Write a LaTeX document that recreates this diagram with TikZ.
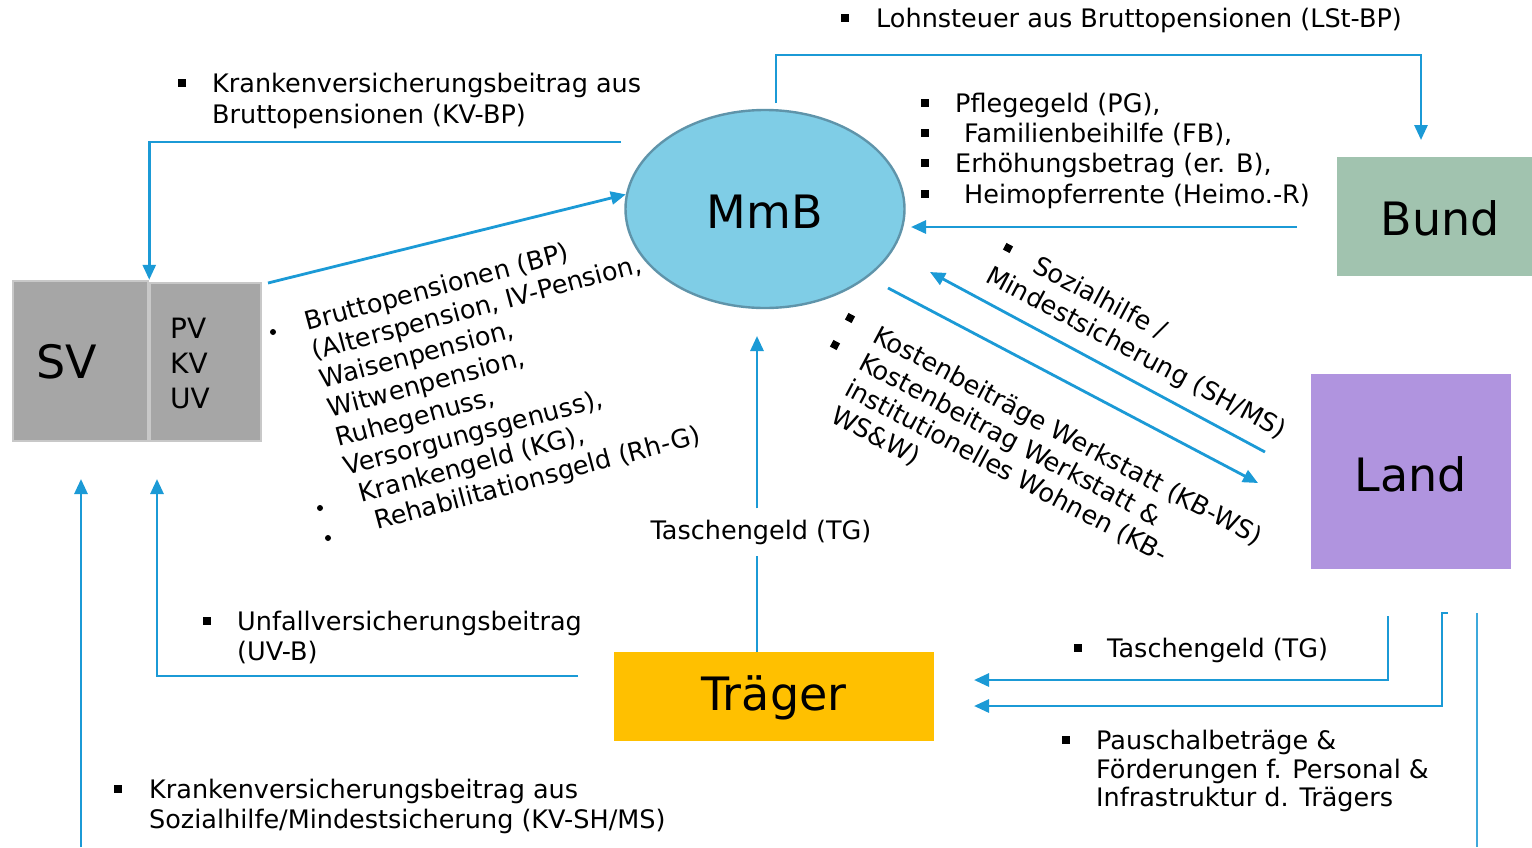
\documentclass[tikz,border=0pt]{standalone}
\usepackage{fontspec}
\setmainfont{DejaVu Sans}
\usetikzlibrary{arrows.meta,shapes.geometric}
\definecolor{arr}{HTML}{1B9AD6}
\definecolor{mmbfill}{HTML}{7FCDE6}
\definecolor{mmbdraw}{HTML}{5F94AA}
\definecolor{bundfill}{HTML}{A1C3AF}
\definecolor{landfill}{HTML}{B094DF}
\definecolor{traegerfill}{HTML}{FFC000}
\definecolor{svfill}{HTML}{A6A6A6}
\definecolor{svdraw}{HTML}{C8C8C8}
\begin{document}
\begin{tikzpicture}[x=1pt,y=-1pt,
  flow/.style={draw=arr,line width=2.8pt,-{Triangle[length=15pt,width=13pt]}},
  plain/.style={draw=arr,line width=2.8pt},
  lbl/.style={anchor=base west,inner sep=0pt,font=\fontsize{25.5}{30}\selectfont},
  sq/.style={fill=black,minimum size=7.5pt,inner sep=0pt},
  dot/.style={circle,fill=black,minimum size=6pt,inner sep=0pt},
  big/.style={font=\fontsize{46}{50}\selectfont,inner sep=0pt},
  boxnode/.style={rectangle,inner sep=0pt}]
\useasboundingbox (0,0) rectangle (1532,847);
\fill[white] (0,0) rectangle (1532,847);

% main nodes
\node[ellipse,draw=mmbdraw,line width=2.4pt,fill=mmbfill,minimum width=279pt,minimum height=198pt,inner sep=0pt] (mmb) at (765,209) {};
\node[big] (mmbt) at (765,212) {MmB};
\node[boxnode,fill=bundfill,minimum width=195pt,minimum height=119pt] (bund) at (1434.5,216.5) {};
\node[big] (bundt) at (1440,218) {Bund};
\node[boxnode,fill=landfill,minimum width=200pt,minimum height=195pt] (land) at (1411,471.5) {};
\node[big] (landt) at (1411,474) {Land};
\node[boxnode,fill=traegerfill,minimum width=320pt,minimum height=89pt] (traeger) at (774,696.5) {};
\node[big] (traegert) at (774,698) {Träger};
\node[boxnode,fill=svfill,draw=svdraw,line width=2.5pt,minimum width=135pt,minimum height=160pt] (sv) at (80.5,361) {};
\node[big] (svt) at (67,362) {SV};
\node[boxnode,fill=svfill,draw=svdraw,line width=2.5pt,minimum width=111pt,minimum height=158pt] (pv) at (205.5,362) {};
\node[anchor=west,align=left,inner sep=0pt,font=\fontsize{28}{35}\selectfont] (pvt) at (170,363) {PV\\KV\\UV};

% coordinates for free ends
\coordinate (ls0) at (776,103);
\coordinate (ls1) at (1421,140);
\coordinate (kb0) at (621,142);
\coordinate (bp0) at (268,283);
\coordinate (pg0) at (1297,227);
\coordinate (pg1) at (911,227);
\coordinate (sh0) at (1265,452);
\coordinate (sh1) at (930,272);
\coordinate (kw0) at (888,288);
\coordinate (kw1) at (1258,483);
\coordinate (tg0) at (757,652);
\coordinate (tg1) at (757,336);
\coordinate (uv0) at (578,676);
\coordinate (uv1) at (157,479);
\coordinate (ks0) at (81,847);
\coordinate (ks1) at (81,479);
\coordinate (lt0) at (1388,616);
\coordinate (lt1) at (974,680);
\coordinate (pa0) at (1448,613);
\coordinate (pa1) at (974,706);
\coordinate (vl0) at (1477,613);
\coordinate (vl1) at (1477,847);

% connectors
\draw[flow] (ls0) -- ++(0,-48) -| (ls1);
\draw[flow] (kb0) -| (sv.north east);
\draw[flow] (bp0) -- (mmb.174);
\draw[flow] (pg0) -- (pg1);
\draw[flow] (sh0) -- (sh1);
\draw[flow] (kw0) -- (kw1);
\node[lbl,anchor=base,inner ysep=11pt] (tgl) at (761,539) {Taschengeld (TG)};
\draw[plain] (tg0) -- (tg0 |- tgl.south);
\draw[flow] (tg0 |- tgl.north) -- (tg1);
\draw[flow] (uv0) -| (uv1);
\draw[flow] (ks0) -- (ks1);
\draw[flow] (lt0) |- (lt1);
\draw[flow] (pa0) -- ++(-6,0) |- (pa1);
\draw[draw=arr!85,line width=1.6pt] (vl0) -- (vl1);

% labels
\node[sq] (b1) at (845,18) {};
\node[lbl] (t1) at (876,27) {Lohnsteuer aus Bruttopensionen (LSt-BP)};

\node[sq] (b2) at (182,83) {};
\node[lbl] (t2a) at (212,92) {Krankenversicherungsbeitrag aus};
\node[lbl] (t2b) at (212,123) {Bruttopensionen (KV-BP)};

\node[sq] (b3a) at (925,103) {};
\node[sq] (b3b) at (925,133) {};
\node[sq] (b3c) at (925,163) {};
\node[sq] (b3d) at (925,194) {};
\node[lbl] (t3a) at (955,112) {Pflegegeld (PG),};
\node[lbl] (t3b) at (964,142) {Familienbeihilfe (FB),};
\node[lbl] (t3c) at (955,172) {Erhöhungsbetrag (er. B),};
\node[lbl] (t3d) at (964,203) {Heimopferrente (Heimo.-R)};

\node[sq] (b4) at (207,621) {};
\node[lbl] (t4a) at (237,630) {Unfallversicherungsbeitrag};
\node[lbl] (t4b) at (237,660) {(UV-B)};

\node[sq] (b5) at (118,789) {};
\node[lbl] (t5a) at (149,798) {Krankenversicherungsbeitrag aus};
\node[lbl] (t5b) at (149,828) {Sozialhilfe/Mindestsicherung (KV-SH/MS)};

\node[sq] (b6) at (1078,648) {};
\node[lbl] (t6) at (1107,657) {Taschengeld (TG)};

\node[sq] (b7) at (1066,740) {};
\node[lbl] (t7a) at (1096,749) {Pauschalbeträge \&};
\node[lbl] (t7b) at (1096,778) {Förderungen f. Personal \&};
\node[lbl] (t7c) at (1096,806) {Infrastruktur d. Trägers};

% rotated BP list
\node[dot] (d1) at (273,332) {};
\node[dot] (d2) at (320,508) {};
\node[dot] (d3) at (328,538) {};
\node[lbl,rotate=15] (r1) at (307,331) {Bruttopensionen (BP)};
\node[lbl,rotate=15] (r2) at (314.8,360) {(Alterspension, IV-Pension,};
\node[lbl,rotate=15] (r3) at (322.6,389) {Waisenpension,};
\node[lbl,rotate=15] (r4) at (330.4,418) {Witwenpension,};
\node[lbl,rotate=15] (r5) at (338.2,447) {Ruhegenuss,};
\node[lbl,rotate=15] (r6) at (346,476) {Versorgungsgenuss),};
\node[lbl,rotate=15] (r7) at (361.5,503) {Krankengeld (KG),};
\node[lbl,rotate=15] (r8) at (377,530) {Rehabilitationsgeld (Rh-G)};

% SH/MS
\node[sq,rotate=-28] (b8) at (1008,248) {};
\node[lbl,rotate=-28] (s1) at (1031,271) {Sozialhilfe /};
\node[lbl,rotate=-28] (s2) at (984,281) {Mindestsicherung (SH/MS)};

% KB
\node[sq,rotate=-28] (b9a) at (850,318) {};
\node[sq,rotate=-28] (b9b) at (835,345) {};
\node[lbl,rotate=-28] (k1) at (871,341) {Kostenbeiträge Werkstatt (KB-WS)};
\node[lbl,rotate=-28] (k2) at (857,368) {Kostenbeitrag Werkstatt \&};
\node[lbl,rotate=-28] (k3) at (843,394) {institutionelles Wohnen (KB-};
\node[lbl,rotate=-28] (k4) at (829,421) {WS\&W)};
\end{tikzpicture}
\end{document}
